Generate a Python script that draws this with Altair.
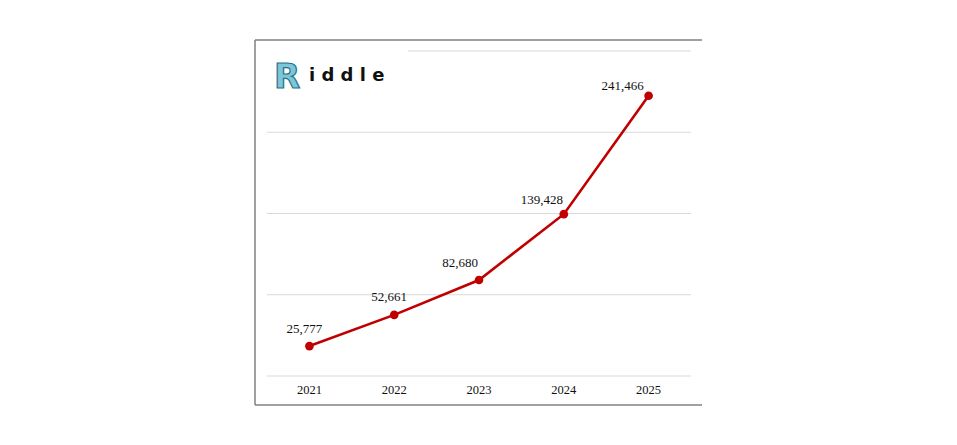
import altair as alt
import pandas as pd

years = ["2021", "2022", "2023", "2024", "2025"]
values = [25777, 52661, 82680, 139428, 241466]
grid_values = [0, 70000, 140000, 210000, 280000]

df = pd.DataFrame({"year": years, "value": values})
df["label"] = [f"{v:,}" for v in values]
grid_df = pd.DataFrame({"g": grid_values})

W, H = 447, 365
RED = "#c00000"

xscale = alt.Scale(type="point", domain=years, range=[12, 436], padding=0.5)
yscale = alt.Scale(domain=[0, 280000], range=[336, 11], nice=False, zero=True)

X = alt.X("year:O", scale=xscale, axis=None)
Y = alt.Y("value:Q", scale=yscale, axis=None)

one = alt.Data(values=[{"k": 1}])

grid = alt.Chart(grid_df).mark_rule(color="#d9d9d9", strokeWidth=1).encode(
    y=alt.Y("g:Q", scale=yscale, axis=None),
    x=alt.value(12), x2=alt.value(436),
)

logo_bg = alt.Chart(one).mark_rect(color="white").encode(
    x=alt.value(1), x2=alt.value(153), y=alt.value(3), y2=alt.value(60)
)

logo_r = alt.Chart(one).mark_text(
    text="R", font="DejaVu Sans", fontWeight="bold", fontSize=34,
    color="#7cc6da", stroke="#2a6f86", strokeWidth=1.2,
    align="center", baseline="middle",
).encode(x=alt.value(32), y=alt.value(38))

logo_t = alt.Chart(one).mark_text(
    text="i d d l e", font="DejaVu Sans", fontWeight="bold", fontSize=18,
    color="#111111", align="left", baseline="middle",
).encode(x=alt.value(54), y=alt.value(36))

line = alt.Chart(df).mark_line(color=RED, strokeWidth=2.6).encode(x=X, y=Y)
pts = alt.Chart(df).mark_circle(color=RED, size=75, opacity=1).encode(x=X, y=Y)

nudges = {"2021": (-5, -17), "2022": (-5, -18), "2023": (-19, -17),
          "2024": (-22, -14), "2025": (-26, -10)}
label_layers = []
for yr in years:
    dx, dy = nudges[yr]
    label_layers.append(
        alt.Chart(df).transform_filter(alt.datum.year == yr).mark_text(
            font="Liberation Serif", fontSize=13, color="#111111",
            align="center", baseline="middle", dx=dx, dy=dy,
        ).encode(x=X, y=Y, text="label:N")
    )

year_labels = alt.Chart(df).mark_text(
    font="Liberation Serif", fontSize=12.5, color="#111111",
    align="center", baseline="middle",
).encode(x=X, y=alt.value(350), text="year:N")

frame_top = alt.Chart(one).mark_rule(color="#808080", strokeWidth=1.5).encode(
    x=alt.value(0), x2=alt.value(W), y=alt.value(0))
frame_bot = alt.Chart(one).mark_rule(color="#808080", strokeWidth=1.5).encode(
    x=alt.value(0), x2=alt.value(W), y=alt.value(H))
frame_left = alt.Chart(one).mark_rule(color="#808080", strokeWidth=1.5).encode(
    x=alt.value(0), y=alt.value(0), y2=alt.value(H))

chart = alt.layer(
    grid, logo_bg, logo_r, logo_t, line, pts, *label_layers, year_labels,
    frame_top, frame_bot, frame_left,
).properties(
    width=W, height=H,
    padding={"left": 247, "top": 32, "right": 10, "bottom": 10},
    autosize=alt.AutoSizeParams(type="none"),
    background="white",
).configure_view(stroke=None)

chart.save("out.html", embed_options={"renderer": "svg", "actions": False})
